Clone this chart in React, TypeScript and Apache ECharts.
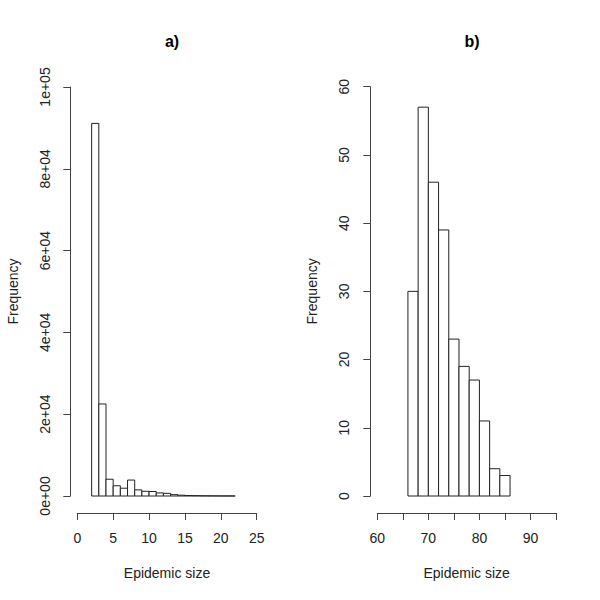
import React, { useEffect, useRef } from "react";
import * as echarts from "echarts";

// Panel a) histogram: bins of width 1 starting at these values
const binStartsA = [2, 3, 4, 5, 6, 7, 8, 9, 10, 11, 12, 13, 14, 15, 16, 17, 18, 19, 20, 21];
const countsA = [91100, 22500, 4100, 2500, 1900, 3900, 1500, 1150, 1100, 750, 650, 330, 200, 130, 90, 60, 40, 25, 15, 8];
const binWidthA = 1;

// Panel b) histogram: bins of width 2
const binStartsB = [66, 68, 70, 72, 74, 76, 78, 80, 82, 84];
const countsB = [30, 57, 46, 39, 23, 19, 17, 11, 4, 3];
const binWidthB = 2;

const titles = ["a)", "b)"];
const xName = "Epidemic size";
const yName = "Frequency";

const FONT = "Liberation Sans, Arial, Helvetica, sans-serif";
const INK = "#222";
const FS = 14;

function sciLabel(v: number): string {
  if (v === 0) return "0e+00";
  const k = Math.floor(Math.log10(Math.abs(v)));
  const m = v / Math.pow(10, k);
  const ks = k < 10 ? "0" + k : String(k);
  return `${m}e+${ks}`;
}

function histData(starts: number[], counts: number[], w: number) {
  return starts.map((s, i) => [s, s + w, counts[i]]);
}

const renderBar = (params: any, api: any) => {
  const x0 = api.value(0);
  const x1 = api.value(1);
  const y = api.value(2);
  const p0 = api.coord([x0, y]);
  const p1 = api.coord([x1, 0]);
  return {
    type: "rect",
    shape: { x: p0[0], y: p0[1], width: p1[0] - p0[0], height: p1[1] - p0[1] },
    style: { fill: "#fff", stroke: INK, lineWidth: 1 },
  };
};

export default function App() {
  const ref = useRef<HTMLDivElement>(null);
  useEffect(() => {
    if (!ref.current) return;
    const chart = echarts.init(ref.current, undefined, { renderer: "svg" });
    const axisCommon = {
      axisLine: { show: true, onZero: false, lineStyle: { color: "#444", width: 1 } },
      axisTick: { show: true, length: 7, lineStyle: { color: "#444", width: 1 } },
      splitLine: { show: false },
      nameTextStyle: { fontFamily: FONT, fontSize: FS, color: INK },
    };
    const titleStyle = { fontFamily: FONT, fontSize: 16, fontWeight: "bold", color: "#000" };
    chart.setOption({
      animation: false,
      backgroundColor: "#fff",
      title: [
        { text: titles[0], left: 167, top: 28, textAlign: "center", textStyle: titleStyle },
        { text: titles[1], left: 467, top: 28, textAlign: "center", textStyle: titleStyle },
      ],
      grid: [
        { left: 77.3, top: 87, width: 179.4, height: 409, containLabel: false },
        { left: 377.3, top: 86.7, width: 178.7, height: 409.3, containLabel: false },
      ],
      xAxis: [
        {
          ...axisCommon,
          type: "value",
          gridIndex: 0,
          min: 0,
          max: 25,
          interval: 5,
          offset: 17,
          name: xName,
          nameLocation: "middle",
          nameGap: 53,
          axisLabel: { fontFamily: FONT, fontSize: FS, color: INK, margin: 18 },
        },
        {
          ...axisCommon,
          type: "value",
          gridIndex: 1,
          min: 60,
          max: 95,
          interval: 5,
          offset: 17,
          name: xName,
          nameLocation: "middle",
          nameGap: 53,
          axisLabel: {
            fontFamily: FONT,
            fontSize: FS,
            color: INK,
            margin: 18,
            formatter: (v: number) => (v % 10 === 0 ? String(v) : ""),
          },
        },
      ],
      yAxis: [
        {
          ...axisCommon,
          type: "value",
          gridIndex: 0,
          min: 0,
          max: 100000,
          interval: 20000,
          offset: 7,
          name: yName,
          nameLocation: "middle",
          nameRotate: 90,
          nameGap: 50,
          axisLabel: {
            fontFamily: FONT,
            fontSize: FS,
            color: INK,
            rotate: 90,
            margin: 18,
            formatter: sciLabel,
          },
        },
        {
          ...axisCommon,
          type: "value",
          gridIndex: 1,
          min: 0,
          max: 60,
          interval: 10,
          offset: 7,
          name: yName,
          nameLocation: "middle",
          nameRotate: 90,
          nameGap: 51,
          axisLabel: { fontFamily: FONT, fontSize: FS, color: INK, rotate: 90, margin: 19 },
        },
      ],
      series: [
        {
          type: "custom",
          xAxisIndex: 0,
          yAxisIndex: 0,
          renderItem: renderBar,
          encode: { x: [0, 1], y: 2 },
          data: histData(binStartsA, countsA, binWidthA),
          clip: false,
        },
        {
          type: "custom",
          xAxisIndex: 1,
          yAxisIndex: 1,
          renderItem: renderBar,
          encode: { x: [0, 1], y: 2 },
          data: histData(binStartsB, countsB, binWidthB),
          clip: false,
        },
      ],
    });
    return () => chart.dispose();
  }, []);
  return (
    <div
      ref={ref}
      style={{ position: "fixed", left: 0, top: 0, width: 600, height: 600, background: "#fff" }}
    />
  );
}
